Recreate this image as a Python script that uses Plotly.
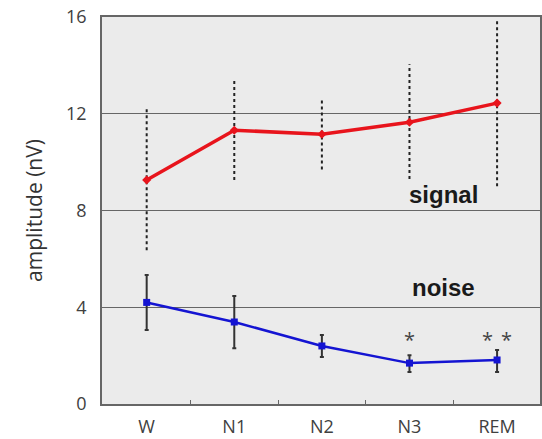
import plotly.graph_objects as go

stages = ["W", "N1", "N2", "N3", "REM"]
signal = [9.26, 11.32, 11.15, 11.65, 12.44]
signal_hi = [12.23, 13.39, 12.6, 14.05, 15.9]
signal_lo = [6.36, 9.26, 9.7, 9.3, 9.0]
noise = [4.2, 3.39, 2.4, 1.69, 1.82]
noise_hi = [5.33, 4.46, 2.85, 2.02, 2.23]
noise_lo = [3.06, 2.31, 1.94, 1.32, 1.32]
yticks = [0, 4, 8, 12, 16]
boundaries = [0.5, 1.5, 2.5, 3.5]

xs = list(range(len(stages)))

fig = go.Figure()

# dotted error bars for signal
ex, ey = [], []
for i in xs:
    ex += [i, i, None]
    ey += [signal_lo[i], signal_hi[i], None]
fig.add_trace(go.Scatter(x=ex, y=ey, mode="lines",
                         line=dict(color="#222222", width=2, dash="dot"),
                         hoverinfo="skip", showlegend=False))

fig.add_trace(go.Scatter(x=xs, y=signal, mode="lines+markers",
                         line=dict(color="#e8141c", width=3.5),
                         marker=dict(color="#e8141c", size=7, symbol="diamond"),
                         showlegend=False))

fig.add_trace(go.Scatter(x=xs, y=noise, mode="lines+markers",
                         line=dict(color="#1414d2", width=2.5),
                         marker=dict(color="#1414d2", size=7, symbol="square"),
                         error_y=dict(type="data", symmetric=False,
                                      array=[h - v for h, v in zip(noise_hi, noise)],
                                      arrayminus=[v - l for v, l in zip(noise, noise_lo)],
                                      color="#333333", thickness=2, width=2),
                         showlegend=False))

fig.add_annotation(x=3.39, y=8.66, text="<b>signal</b>", showarrow=False,
                   font=dict(size=24, color="#1a1a1a", family="Liberation Sans"))
fig.add_annotation(x=3.39, y=4.82, text="<b>noise</b>", showarrow=False,
                   font=dict(size=24, color="#1a1a1a", family="Liberation Sans"))
for ax in [3, 3.89, 4.11]:
    fig.add_annotation(x=ax, y=2.68, text="*", showarrow=False,
                       font=dict(size=20, color="#444444", family="Open Sans"))

fig.update_layout(
    width=542, height=439,
    margin=dict(l=102, r=2, t=17, b=35, autoexpand=False),
    paper_bgcolor="white",
    plot_bgcolor="#ebebeb",
    font=dict(family="Open Sans", color="#404040"),
    xaxis=dict(range=[-0.51, 4.49], tickmode="array", tickvals=xs, ticktext=stages,
               showgrid=False, zeroline=False, showline=True, linecolor="#666666",
               linewidth=1.5, mirror=True, ticks="", tickfont=dict(size=18),
               ticklabelstandoff=6, automargin=False,
               minor=dict(tickmode="array", tickvals=boundaries, ticks="inside",
                          ticklen=4, tickcolor="#666666", showgrid=False),
               fixedrange=True),
    yaxis=dict(range=[0, 16], tickmode="array", tickvals=yticks,
               showgrid=True, gridcolor="#666666", gridwidth=1.2, zeroline=False,
               showline=True, linecolor="#666666", linewidth=1.5, mirror=True,
               ticks="", ticklen=0, tickfont=dict(size=18), ticklabelstandoff=10,
               ticklabeloverflow="allow", automargin=False,
               title=dict(text="amplitude (nV)", font=dict(size=21, color="#333333"),
                          standoff=18)),
)

fig.write_html("out.html", config={"displayModeBar": False},
               post_script="document.body.style.margin='0';")
